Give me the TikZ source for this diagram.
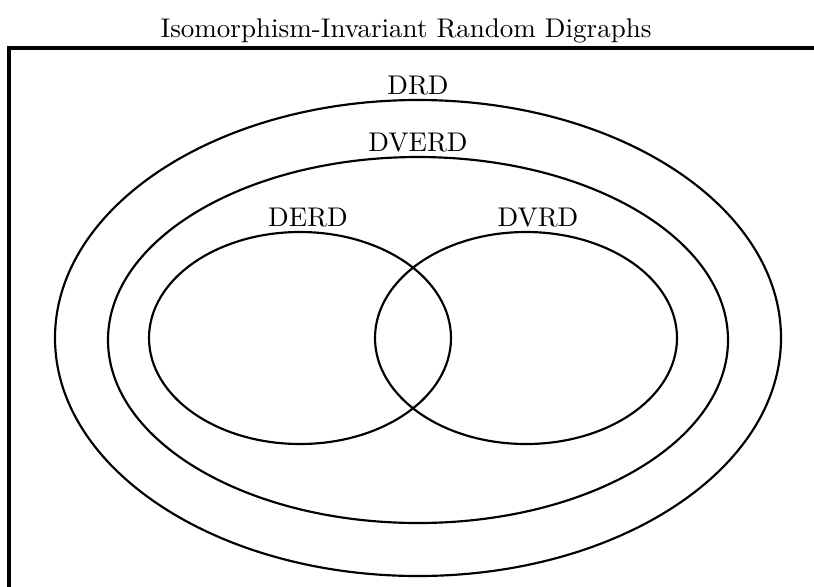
\documentclass[tikz,border=0pt]{standalone}
\usepackage{tikz}
\usetikzlibrary{positioning}

\begin{document}
\begin{tikzpicture}[
  x=0.37pt, y=-0.37pt,
  set/.style={line width=0.8pt},
  frame/.style={line width=1.2pt},
  setlabel/.style={inner sep=0pt, anchor=base, font=\normalsize}
]
\clip (0,0) rectangle (814,586);
% universe
\node[setlabel] (title) at (406,37) {Isomorphism-Invariant Random Digraphs};
\coordinate (frametl) at (9,48);
\draw[frame] (frametl |- 0,600) -- (frametl) -- (830,48);
% nested sets
\draw[set] (418,338) ellipse [x radius=363, y radius=238];
\draw[set] (418,340) ellipse [x radius=310, y radius=183];
\draw[set] (300,338) ellipse [x radius=151, y radius=106];
\draw[set] (526,338) ellipse [x radius=151, y radius=106];
\node[setlabel] (drd) at (418,94) {DRD};
\node[setlabel] (dverd) at (418,151) {DVERD};
\node[setlabel] (derd) at (308,226) {DERD};
\node[setlabel] (dvrd) at (538,226) {DVRD};
\end{tikzpicture}
\end{document}
